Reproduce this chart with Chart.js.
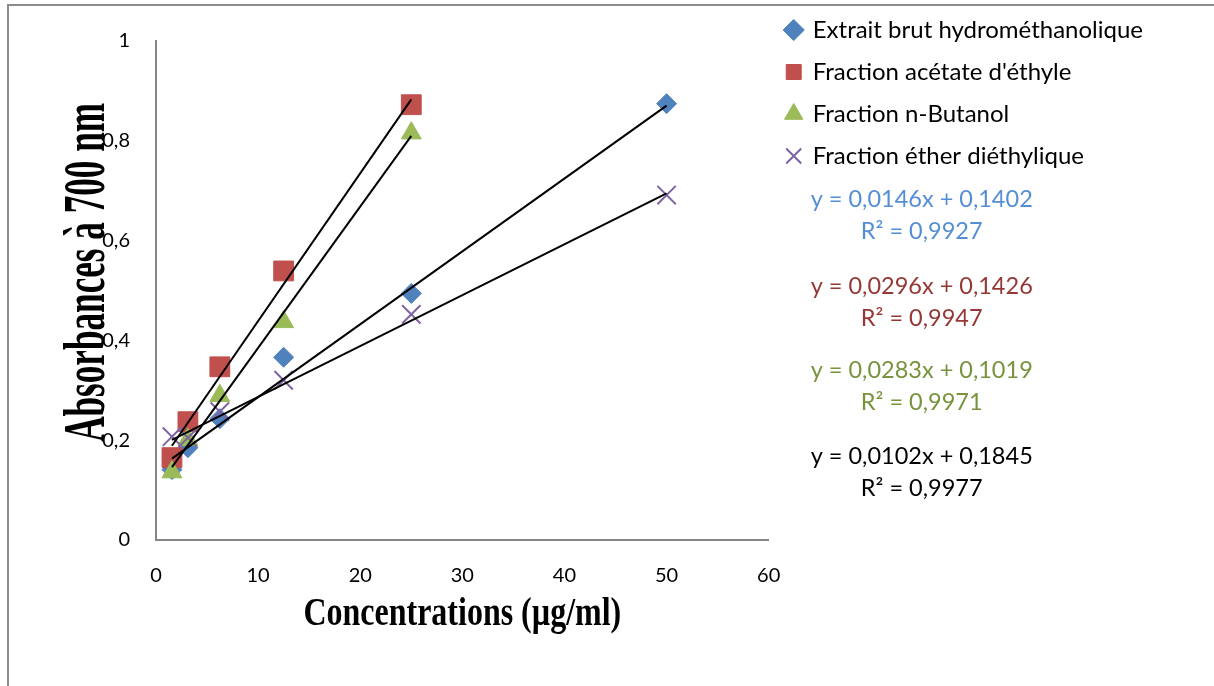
<!DOCTYPE html>
<html lang="fr">
<head>
<meta charset="utf-8">
<title>Pouvoir réducteur</title>
<script src="https://cdn.jsdelivr.net/npm/chart.js@4"></script>
<style>
  html, body { margin: 0; padding: 0; background: #fff; }
  .cadre { position: relative; width: 1214px; height: 686px; overflow: hidden; }
  .cadre::before {
    content: ''; position: absolute; left: 7px; top: 4px; right: 0; bottom: -10px;
    border-top: 2px solid #8c8c8c; border-left: 2px solid #8c8c8c; pointer-events: none;
  }
  canvas { display: block; }
</style>
</head>
<body>
<div class="cadre">
  <canvas id="absorbance" width="1214" height="686"></canvas>
</div>
<script>
  // concentrations (µg/ml) et absorbances lues à 700 nm
  const concentrations = [1.5625, 3.125, 6.25, 12.5, 25, 50];
  const extraitBrut = [0.141, 0.185, 0.243, 0.366, 0.494, 0.874];
  const acetateEthyle = [0.165, 0.237, 0.347, 0.539, 0.872];
  const nButanol = [0.136, 0.201, 0.289, 0.437, 0.815];
  const etherDiethylique = [0.207, 0.205, 0.257, 0.320, 0.452, 0.691];

  const noms = ['Extrait brut hydrométhanolique', "Fraction acétate d'éthyle", 'Fraction n-Butanol', 'Fraction éther diéthylique'];
  const couleurs = ['#4F81BD', '#C0504D', '#9BBB59', '#8064A2'];
  const couleursEquation = ['#558ED5', '#953735', '#77933C', '#000000'];

  // droites de régression (y = a x + b)
  const pentes = [0.0146, 0.0296, 0.0283, 0.0102];
  const ordonnees = [0.1402, 0.1426, 0.1019, 0.1845];
  const r2 = [0.9927, 0.9947, 0.9971, 0.9977];

  const xMax = 60, xPas = 10;
  const yMax = 1, yPas = 0.2;

  const titreX = 'Concentrations (µg/ml)';
  const titreY = 'Absorbances à 700 nm';

  const series = [extraitBrut, acetateEthyle, nButanol, etherDiethylique];
  const formes = [
    { pointStyle: 'rectRot', pointRadius: 10 },
    { pointStyle: 'rect', pointRadius: 14 },
    { pointStyle: 'triangle', pointRadius: 11.5 },
    { pointStyle: 'crossRot', pointRadius: 13 }
  ];

  const virgule = (v) => String(v).replace('.', ',');

  function points(valeurs) {
    return valeurs.map((y, i) => ({ x: concentrations[i], y: y }));
  }

  function tendance(k) {
    const xs = concentrations.slice(0, series[k].length);
    const x0 = xs[0], x1 = xs[xs.length - 1];
    return [
      { x: x0, y: pentes[k] * x0 + ordonnees[k] },
      { x: x1, y: pentes[k] * x1 + ordonnees[k] }
    ];
  }

  const datasets = [];
  series.forEach((valeurs, k) => {
    datasets.push({
      label: noms[k],
      data: points(valeurs),
      backgroundColor: couleurs[k],
      borderColor: couleurs[k],
      borderWidth: k === 3 ? 2 : 1,
      pointStyle: formes[k].pointStyle,
      pointRadius: formes[k].pointRadius,
      pointHoverRadius: formes[k].pointRadius,
      order: 4 - k
    });
  });
  series.forEach((valeurs, k) => {
    datasets.push({
      label: 'tendance ' + noms[k],
      data: tendance(k),
      showLine: true,
      borderColor: '#000',
      borderWidth: 2,
      pointRadius: 0,
      fill: false,
      order: 0
    });
  });

  // équations écrites sous la légende
  const equations = {
    id: 'equations',
    afterDraw(chart) {
      const ctx = chart.ctx;
      const cx = chart.chartArea.right + 153;
      const lignes = [199, 286, 370, 456];
      ctx.save();
      ctx.font = '23.5px Lato';
      ctx.textAlign = 'center';
      ctx.textBaseline = 'middle';
      pentes.forEach((a, k) => {
        ctx.fillStyle = couleursEquation[k];
        ctx.fillText('y = ' + virgule(a) + 'x + ' + virgule(ordonnees[k]), cx, lignes[k]);
        ctx.fillText('R² = ' + virgule(r2[k]), cx, lignes[k] + 32);
      });
      ctx.restore();
    }
  };

  // titres des axes, en Times gras étroit
  const titresAxes = {
    id: 'titresAxes',
    afterDraw(chart) {
      const ctx = chart.ctx;
      const ca = chart.chartArea;
      ctx.save();
      ctx.fillStyle = '#000';
      ctx.textAlign = 'center';
      ctx.textBaseline = 'alphabetic';

      ctx.save();
      ctx.translate((ca.left + ca.right) / 2, 625);
      ctx.scale(0.82, 1);
      ctx.font = 'bold 39px "Liberation Serif"';
      ctx.fillText(titreX, 0, 0);
      ctx.restore();

      ctx.save();
      ctx.translate(104, (ca.top + ca.bottom) / 2 - 18);
      ctx.rotate(-Math.PI / 2);
      ctx.scale(0.586, 1);
      ctx.font = 'bold 60px "Liberation Serif"';
      ctx.fillText(titreY, 0, 0);
      ctx.restore();

      ctx.restore();
    }
  };

  Chart.defaults.font.family = 'Lato';
  Chart.defaults.color = '#000';

  new Chart(document.getElementById('absorbance'), {
    type: 'scatter',
    data: { datasets: datasets },
    plugins: [equations, titresAxes],
    options: {
      responsive: false,
      animation: false,
      layout: { padding: { top: 0, left: 96, bottom: 86, right: 61 } },
      scales: {
        x: {
          type: 'linear',
          min: 0,
          max: xMax,
          afterFit(scale) { scale.height = 60; },
          grid: { display: false, drawTicks: false },
          border: { display: true, color: '#868686', width: 2 },
          ticks: { stepSize: xPas, padding: 24, font: { size: 20 }, color: '#000' }
        },
        y: {
          min: 0,
          max: yMax,
          afterFit(scale) { scale.width = 60; },
          grid: { display: false, drawTicks: false },
          border: { display: true, color: '#868686', width: 2 },
          ticks: {
            stepSize: yPas,
            padding: 26,
            font: { size: 20 },
            color: '#000',
            callback: (v) => virgule(Number(v.toFixed(1)))
          }
        }
      },
      plugins: {
        title: { display: true, text: '', padding: 0, font: { size: 34, lineHeight: 1.2 } },
        tooltip: { enabled: false },
        legend: {
          position: 'right',
          align: 'start',
          maxWidth: 600,
          labels: {
            usePointStyle: true,
            boxWidth: 14,
            boxHeight: 15,
            padding: 18,
            color: '#000',
            font: { size: 24 },
            filter: (item) => item.datasetIndex < 4,
            sort: (a, b) => a.datasetIndex - b.datasetIndex
          }
        }
      }
    }
  });
</script>
</body>
</html>
